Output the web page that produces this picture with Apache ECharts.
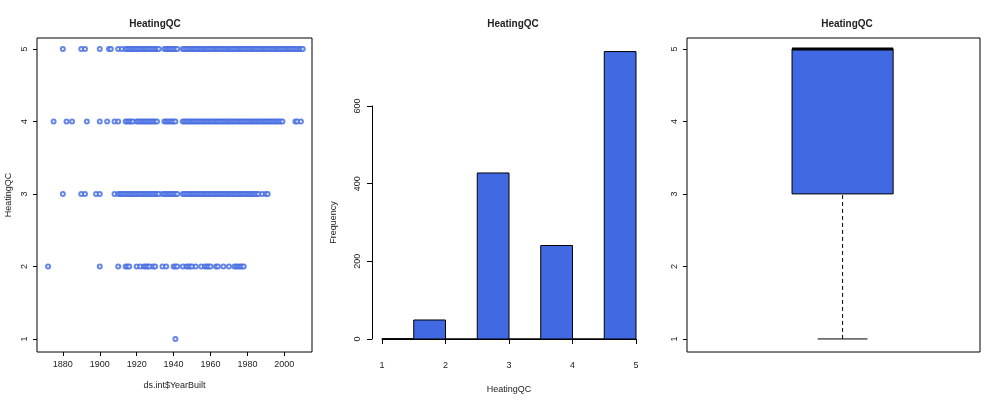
<!DOCTYPE html>
<html>
<head>
<meta charset="utf-8">
<script src="https://cdn.jsdelivr.net/npm/echarts@6/dist/echarts.min.js"></script>
<style>html,body{margin:0;background:#fff}#main{width:1000px;height:400px}</style>
</head>
<body>
<div id="main"></div>
<script>
// 年份 - 各 HeatingQC 等级
var years5 = [1880,1890,1892,1900,1905,1906,1910,1912,1914,1915,1916,1917,1918,1919,1920,1921,1922,1923,1924,1925,1926,1927,1928,1929,1930,1931,1932,1935,1936,1937,1938,1939,1940,1941,1942,1945,1946,1947,1948,1949,1950,1951,1952,1953,1954,1955,1956,1957,1958,1959,1960,1961,1962,1963,1964,1965,1966,1967,1968,1969,1970,1971,1972,1973,1974,1975,1976,1977,1978,1979,1980,1981,1982,1983,1984,1985,1986,1987,1988,1989,1990,1991,1992,1993,1994,1995,1996,1997,1998,1999,2000,2001,2002,2003,2004,2005,2006,2007,2008,2009,2010];
var years4 = [1875,1882,1885,1893,1900,1904,1908,1910,1914,1915,1916,1917,1918,1920,1921,1922,1923,1924,1925,1926,1927,1928,1929,1930,1931,1935,1936,1937,1938,1939,1940,1941,1945,1946,1947,1948,1949,1950,1951,1952,1953,1954,1955,1956,1957,1958,1959,1960,1961,1962,1963,1964,1965,1966,1967,1968,1969,1970,1971,1972,1973,1974,1975,1976,1977,1978,1979,1980,1981,1982,1983,1984,1985,1986,1987,1988,1989,1990,1991,1992,1993,1994,1995,1996,1997,1998,1999,2006,2007,2009];
var years3 = [1880,1890,1892,1898,1900,1908,1910,1911,1912,1913,1914,1915,1916,1917,1918,1919,1920,1921,1922,1923,1924,1925,1926,1927,1928,1929,1930,1931,1932,1934,1935,1936,1937,1938,1939,1940,1941,1942,1945,1946,1947,1948,1949,1950,1951,1952,1953,1954,1955,1956,1957,1958,1959,1960,1961,1962,1963,1964,1965,1966,1967,1968,1969,1970,1971,1972,1973,1974,1975,1976,1977,1978,1979,1980,1981,1982,1983,1984,1985,1986,1988,1990,1991];
var years2 = [1872,1900,1910,1914,1915,1916,1920,1922,1924,1925,1926,1927,1929,1930,1934,1936,1940,1941,1942,1945,1947,1948,1949,1950,1952,1955,1957,1958,1959,1960,1963,1964,1967,1970,1973,1974,1975,1976,1977,1978];
var years1 = [1941];
// 直方图
var binStart = [1, 1.5, 2, 2.5, 3, 3.5, 4, 4.5];
var binEnd = [1.5, 2, 2.5, 3, 3.5, 4, 4.5, 5];
var counts = [1, 49, 0, 428, 0, 241, 0, 741];
// 箱线图 [min, q1, median, q3, max]
var boxStats = [1, 3, 5, 5, 5];
var levelTicks = [1, 2, 3, 4, 5];
var yearTicks = [1880, 1900, 1920, 1940, 1960, 1980, 2000];
var histXTicks = [1, 2, 3, 4, 5];

var blue = '#4169E1';
var txt = '#222';
var lbl = {color: txt, fontSize: 9, fontFamily: 'Liberation Sans'};

var pts = [];
[[years1,1],[years2,2],[years3,3],[years4,4],[years5,5]].forEach(function(g){
  g[0].forEach(function(y){ pts.push([y, g[1]]); });
});
var hist = binStart.map(function(s, i){ return [s, binEnd[i], counts[i]]; });

var chart = echarts.init(document.getElementById('main'));
var option = {
  animation: false,
  title: [
    {text: 'HeatingQC', left: 150, top: 14, textAlign: 'center', textStyle: {fontSize: 10, fontWeight: 'bold', color: txt}},
    {text: 'HeatingQC', left: 508, top: 14, textAlign: 'center', textStyle: {fontSize: 10, fontWeight: 'bold', color: txt}},
    {text: 'HeatingQC', left: 842, top: 14, textAlign: 'center', textStyle: {fontSize: 10, fontWeight: 'bold', color: txt}}
  ],
  grid: [
    {left: 37, top: 38, width: 275, height: 314, show: true, borderColor: '#000', borderWidth: 1},
    {left: 382, top: 50, width: 254, height: 289},
    {left: 382, top: 106, width: 254, height: 233},
    {left: 687, top: 38, width: 293, height: 314, show: true, borderColor: '#000', borderWidth: 1}
  ],
  xAxis: [
    {gridIndex: 0, type: 'value', min: 1866, max: 2015, name: 'ds.int$YearBuilt', nameLocation: 'middle', nameGap: 29, nameTextStyle: lbl,
      splitLine: {show: false}, axisLine: {show: false}, axisTick: {show: true, length: 4, customValues: yearTicks, lineStyle: {color: '#000'}},
      axisLabel: Object.assign({customValues: yearTicks, margin: 8, formatter: function(v){ return String(v); }}, lbl)},
    {gridIndex: 1, type: 'value', min: 1, max: 5, offset: 12, name: 'HeatingQC', nameLocation: 'middle', nameGap: 34, nameTextStyle: lbl,
      splitLine: {show: false}, axisLine: {show: true, lineStyle: {color: '#000'}}, axisTick: {show: true, length: 5, customValues: histXTicks, lineStyle: {color: '#000'}},
      axisLabel: Object.assign({customValues: histXTicks, margin: 10}, lbl)},
    {gridIndex: 2, type: 'value', min: 1, max: 5, show: false},
    {gridIndex: 3, type: 'value', min: 0.469, max: 1.469, show: false}
  ],
  yAxis: [
    {gridIndex: 0, type: 'value', min: 0.82, max: 5.15, name: 'HeatingQC', nameLocation: 'middle', nameGap: 24, nameTextStyle: lbl,
      splitLine: {show: false}, axisLine: {show: false}, axisTick: {show: true, length: 4, customValues: levelTicks, lineStyle: {color: '#000'}},
      axisLabel: Object.assign({customValues: levelTicks, rotate: 90, margin: 8}, lbl)},
    {gridIndex: 1, type: 'value', min: 0, max: 745, show: false},
    {gridIndex: 2, type: 'value', min: 0, max: 600, interval: 200, offset: 10, name: 'Frequency', nameLocation: 'middle', nameGap: 34, nameTextStyle: lbl,
      splitLine: {show: false}, axisLine: {show: true, lineStyle: {color: '#000'}}, axisTick: {show: true, length: 5, lineStyle: {color: '#000'}},
      axisLabel: Object.assign({rotate: 90, margin: 10}, lbl)},
    {gridIndex: 3, type: 'value', min: 0.82, max: 5.15,
      splitLine: {show: false}, axisLine: {show: false}, axisTick: {show: true, length: 4, customValues: levelTicks, lineStyle: {color: '#000'}},
      axisLabel: Object.assign({customValues: levelTicks, rotate: 90, margin: 8}, lbl)}
  ],
  series: [
    {type: 'scatter', xAxisIndex: 0, yAxisIndex: 0, data: pts, symbol: 'emptyCircle', symbolSize: 4,
      itemStyle: {color: blue, borderColor: blue, borderWidth: 0.8}},
    {type: 'custom', xAxisIndex: 1, yAxisIndex: 1, data: hist,
      renderItem: function(params, api){
        var p0 = api.coord([api.value(0), api.value(2)]);
        var p1 = api.coord([api.value(1), 0]);
        return {type: 'rect', shape: {x: p0[0], y: p0[1], width: p1[0] - p0[0], height: p1[1] - p0[1]},
          style: {fill: blue, stroke: '#000', lineWidth: 1}};
      }},
    {type: 'custom', xAxisIndex: 3, yAxisIndex: 3, data: [[1].concat(boxStats)],
      renderItem: function(params, api){
        var c = api.value(0);
        var lo = api.coord([c, api.value(1)]), q1 = api.coord([c - 0.1725, api.value(2)]),
            md = api.coord([c - 0.1725, api.value(3)]), q3 = api.coord([c + 0.1725, api.value(4)]);
        var capL = api.coord([c - 0.085, api.value(1)]), capR = api.coord([c + 0.085, api.value(1)]);
        var mdR = api.coord([c + 0.1725, api.value(3)]);
        return {type: 'group', children: [
          {type: 'line', shape: {x1: lo[0], y1: lo[1], x2: lo[0], y2: q1[1]}, style: {stroke: '#000', lineWidth: 1, lineDash: [4, 3]}},
          {type: 'line', shape: {x1: capL[0], y1: capL[1], x2: capR[0], y2: capR[1]}, style: {stroke: '#000', lineWidth: 1}},
          {type: 'rect', shape: {x: q1[0], y: q3[1], width: q3[0] - q1[0], height: q1[1] - q3[1]}, style: {fill: blue, stroke: '#000', lineWidth: 1}},
          {type: 'line', shape: {x1: md[0], y1: md[1], x2: mdR[0], y2: mdR[1]}, style: {stroke: '#000', lineWidth: 3}}
        ]};
      }}
  ]
};
chart.setOption(option);
</script>
</body>
</html>
